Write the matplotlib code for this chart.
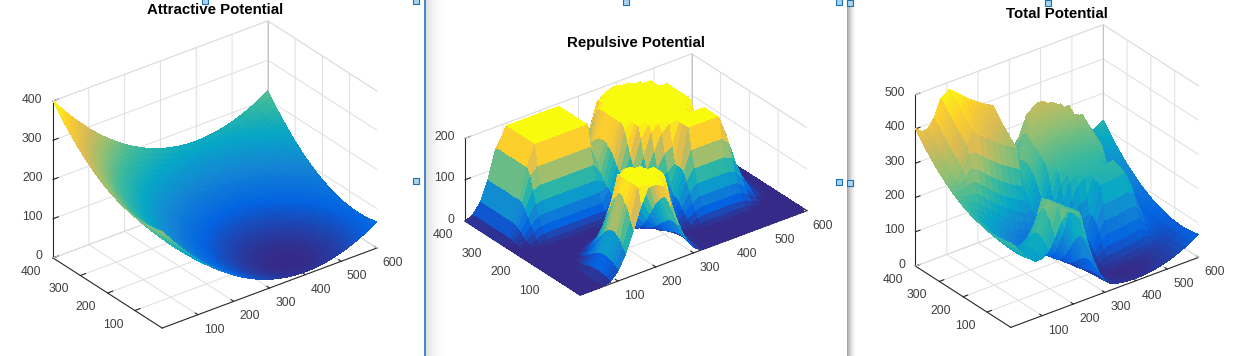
import itertools

import numpy as np
import matplotlib
matplotlib.use('Agg')
import matplotlib.pyplot as plt
from matplotlib.colors import LinearSegmentedColormap
from matplotlib.patches import Rectangle
from mpl_toolkits.mplot3d import proj3d

plt.rcParams['font.family'] = ['Liberation Sans', 'DejaVu Sans']

W, H = 1237, 356

titles = ['Attractive Potential', 'Repulsive Potential', 'Total Potential']
x_ticks = [100, 200, 300, 400, 500, 600]
y_ticks = [100, 200, 300, 400]
z_ticks_attr = [0, 100, 200, 300, 400]
z_ticks_rep = [0, 100, 200]
z_ticks_total = [0, 100, 200, 300, 400, 500]

# attractive height read along x (at y=70) and along y (at x=400), every 10 units
attr_x = [238.4, 226.6, 215.2, 204.0, 193.1, 182.5, 172.2, 162.3, 152.6, 143.2, 134.1, 125.3, 116.8, 108.6, 100.7,
          93.1, 85.8, 78.8, 72.1, 65.7, 59.6, 53.8, 48.3, 43.1, 38.1, 33.5, 29.2, 25.2, 21.5, 18.0, 14.9,
          12.1, 9.5, 7.3, 5.4, 3.7, 2.4, 1.3, 0.6, 0.1, 0.0, 0.1, 0.6, 1.3, 2.4, 3.7, 5.4, 7.3, 9.5, 12.1, 14.9,
          18.0, 21.5, 25.2, 29.2, 33.5, 38.1, 43.1, 48.3, 53.8, 59.6]
attr_y = [7.3, 5.4, 3.7, 2.4, 1.3, 0.6, 0.1, 0.0, 0.1, 0.6, 1.3, 2.4, 3.7, 5.4, 7.3, 9.5, 12.1, 14.9, 18.0, 21.5, 25.2,
          29.2, 33.5, 38.1, 43.1, 48.3, 53.8, 59.6, 65.7, 72.1, 78.8, 85.8, 93.1, 100.7, 108.6, 116.8, 125.3, 134.1,
          143.2, 152.6, 162.3]

# repulsive height, one row per y from 0 to 400 (step 10), x from 0 to 600 (step 20)
rep_rows = [
    [0, 0, 0, 0, 5, 25, 58, 106, 160, 200, 200, 190, 132, 81, 39, 13, 1, 0, 0, 0, 0, 0, 0, 0, 0, 0, 0, 0, 0, 0, 0],
    [0, 0, 0, 0, 8, 30, 68, 125, 200, 200, 200, 200, 162, 97, 47, 17, 2, 0, 0, 0, 0, 0, 0, 0, 0, 0, 0, 0, 0, 0, 0],
    [0, 0, 0, 0, 10, 36, 81, 150, 200, 200, 200, 200, 190, 110, 54, 21, 3, 0, 0, 0, 0, 0, 0, 0, 0, 0, 0, 0, 0, 0, 0],
    [0, 0, 0, 0, 11, 39, 88, 160, 200, 200, 200, 200, 200, 120, 62, 24, 4, 0, 0, 0, 0, 0, 0, 0, 0, 0, 0, 0, 0, 0, 0],
    [0, 0, 0, 0, 12, 41, 93, 175, 200, 200, 200, 200, 200, 128, 64, 25, 4, 0, 0, 0, 0, 0, 0, 0, 0, 0, 0, 0, 0, 0, 0],
    [0, 0, 0, 0, 12, 41, 93, 175, 200, 200, 200, 200, 200, 128, 64, 25, 4, 0, 0, 0, 0, 0, 0, 0, 0, 0, 0, 0, 0, 0, 0],
    [0, 0, 0, 0, 11, 39, 88, 160, 200, 200, 200, 200, 200, 120, 62, 24, 4, 0, 0, 0, 0, 0, 0, 0, 0, 0, 0, 0, 0, 0, 0],
    [0, 0, 0, 0, 10, 36, 81, 150, 200, 200, 200, 200, 190, 110, 54, 21, 3, 0, 0, 1, 2, 2, 2, 2, 2, 2, 0, 0, 0, 0, 0],
    [0, 0, 0, 0, 8, 30, 68, 125, 200, 200, 200, 200, 162, 97, 47, 17, 2, 0, 1, 6, 8, 8, 8, 8, 8, 8, 4, 0, 0, 0, 0],
    [0, 0, 0, 0, 5, 25, 58, 106, 160, 200, 200, 190, 132, 81, 39, 13, 1, 0, 6, 14, 18, 18, 18, 18, 18, 17, 10, 3, 0, 0, 0],
    [0, 0, 0, 0, 3, 18, 45, 84, 128, 160, 175, 148, 106, 64, 30, 9, 0, 3, 13, 27, 32, 32, 32, 32, 32, 31, 21, 8, 0, 0, 0],
    [0, 0, 0, 0, 1, 12, 34, 64, 96, 122, 128, 111, 81, 47, 22, 5, 0, 6, 24, 42, 52, 52, 52, 52, 52, 50, 32, 13, 1, 0, 0],
    [0, 0, 0, 0, 0, 6, 24, 45, 70, 88, 93, 81, 58, 34, 15, 2, 0, 10, 32, 62, 78, 78, 78, 78, 78, 74, 48, 21, 4, 0, 0],
    [0, 0, 0, 0, 0, 3, 14, 29, 47, 62, 64, 54, 39, 22, 8, 0, 4, 14, 41, 84, 110, 110, 110, 110, 110, 102, 62, 27, 6, 0, 0],
    [0, 0, 0, 0, 0, 0, 7, 18, 30, 39, 41, 36, 25, 12, 3, 4, 12, 21, 50, 102, 150, 150, 150, 150, 150, 133, 74, 31, 7, 0, 0],
    [0, 0, 0, 0, 0, 0, 2, 9, 17, 23, 25, 21, 13, 5, 3, 11, 22, 34, 52, 110, 200, 200, 200, 200, 200, 150, 78, 32, 8, 0, 0],
    [0, 0, 0, 0, 0, 0, 0, 3, 8, 12, 12, 10, 6, 1, 8, 21, 36, 54, 68, 110, 200, 200, 200, 200, 200, 150, 78, 32, 8, 0, 0],
    [0, 0, 0, 0, 0, 0, 0, 0, 2, 3, 4, 3, 1, 3, 14, 32, 54, 78, 97, 110, 200, 200, 200, 200, 200, 150, 78, 32, 8, 0, 0],
    [0, 0, 0, 0, 0, 0, 0, 0, 0, 0, 0, 0, 0, 8, 24, 47, 78, 106, 134, 148, 200, 200, 200, 200, 200, 150, 78, 32, 8, 0, 0],
    [0, 0, 0, 0, 0, 0, 0, 0, 0, 0, 0, 0, 2, 13, 34, 65, 103, 141, 180, 197, 200, 200, 200, 200, 200, 150, 78, 32, 8, 0, 0],
    [0, 0, 0, 0, 0, 0, 0, 0, 0, 0, 0, 0, 4, 21, 47, 87, 132, 185, 200, 200, 200, 200, 200, 200, 200, 150, 78, 32, 8, 0, 0],
    [0, 0, 0, 0, 2, 2, 2, 2, 2, 2, 2, 2, 8, 28, 61, 110, 170, 200, 200, 200, 200, 200, 200, 170, 150, 133, 74, 31, 7, 0, 0],
    [0, 0, 0, 4, 8, 8, 8, 8, 8, 8, 8, 8, 12, 36, 78, 132, 200, 200, 200, 200, 200, 200, 200, 200, 132, 102, 62, 27, 6, 0, 0],
    [0, 0, 3, 10, 17, 18, 18, 18, 18, 18, 18, 18, 18, 45, 93, 159, 200, 200, 200, 200, 200, 200, 200, 200, 159, 93, 48, 21, 4, 0, 0],
    [0, 0, 8, 21, 31, 32, 32, 32, 32, 32, 32, 32, 32, 57, 106, 185, 200, 200, 200, 200, 200, 200, 200, 200, 185, 106, 57, 21, 3, 0, 0],
    [0, 1, 13, 32, 50, 52, 52, 52, 52, 52, 52, 52, 52, 61, 120, 200, 200, 200, 200, 200, 200, 200, 200, 200, 200, 120, 61, 25, 4, 0, 0],
    [0, 4, 21, 48, 74, 78, 78, 78, 78, 78, 78, 78, 78, 69, 134, 200, 200, 200, 200, 200, 200, 200, 200, 200, 200, 134, 69, 28, 6, 0, 0],
    [0, 6, 27, 61, 102, 110, 110, 110, 110, 110, 110, 110, 110, 84, 141, 200, 200, 200, 200, 200, 200, 200, 200, 200, 200, 141, 73, 31, 7, 0, 0],
    [0, 8, 31, 74, 133, 150, 150, 150, 150, 150, 150, 150, 150, 102, 148, 200, 200, 200, 200, 200, 200, 200, 200, 200, 200, 148, 78, 32, 8, 0, 0],
    [0, 8, 32, 78, 150, 200, 200, 200, 200, 200, 200, 200, 200, 110, 150, 200, 200, 200, 200, 200, 200, 200, 200, 200, 200, 150, 78, 32, 8, 0, 0],
    [0, 8, 32, 78, 150, 200, 200, 200, 200, 200, 200, 200, 200, 110, 148, 200, 200, 200, 200, 200, 200, 200, 200, 200, 200, 148, 78, 32, 8, 0, 0],
    [0, 8, 32, 78, 150, 200, 200, 200, 200, 200, 200, 200, 200, 110, 141, 200, 200, 200, 200, 200, 200, 200, 200, 200, 200, 141, 73, 31, 7, 0, 0],
    [0, 8, 32, 78, 150, 200, 200, 200, 200, 200, 200, 200, 200, 110, 134, 200, 200, 200, 200, 200, 200, 200, 200, 200, 200, 134, 69, 28, 6, 0, 0],
    [0, 8, 32, 78, 150, 200, 200, 200, 200, 200, 200, 200, 200, 110, 120, 200, 200, 200, 200, 200, 200, 200, 200, 200, 200, 120, 61, 25, 4, 0, 0],
    [0, 8, 32, 78, 150, 200, 200, 200, 200, 200, 200, 200, 200, 110, 106, 185, 200, 200, 200, 200, 200, 200, 200, 200, 185, 106, 57, 21, 3, 0, 0],
    [0, 8, 32, 78, 150, 200, 200, 200, 200, 200, 200, 200, 200, 110, 93, 159, 200, 200, 200, 200, 200, 200, 200, 200, 159, 93, 45, 17, 2, 0, 0],
    [0, 8, 32, 78, 150, 200, 200, 200, 200, 200, 200, 200, 200, 110, 78, 132, 200, 200, 200, 200, 200, 200, 200, 200, 132, 78, 36, 12, 0, 0, 0],
    [0, 8, 32, 78, 150, 200, 200, 200, 200, 200, 200, 200, 200, 110, 61, 110, 170, 200, 200, 200, 200, 200, 200, 170, 110, 61, 28, 8, 0, 0, 0],
    [0, 8, 32, 78, 150, 200, 200, 200, 200, 200, 200, 200, 200, 110, 52, 87, 132, 185, 200, 200, 200, 200, 185, 132, 87, 47, 21, 4, 0, 0, 0],
    [0, 8, 32, 78, 150, 200, 200, 200, 200, 200, 200, 200, 200, 110, 52, 65, 103, 141, 180, 197, 197, 180, 141, 103, 65, 34, 13, 2, 0, 0, 0],
    [0, 8, 32, 78, 145, 175, 175, 175, 175, 175, 175, 175, 175, 108, 52, 47, 78, 106, 134, 148, 148, 134, 106, 78, 47, 24, 8, 0, 0, 0, 0],
]

parula = ['#352A87', '#0363E1', '#1485D4', '#06A7C6', '#38B99E', '#92BF73', '#D9BA56', '#FCCE2E', '#F9FB0E']
cmap = LinearSegmentedColormap.from_list('parula', parula, N=256)

# blue selection handles of the screenshot, (x, y) in pixels
handles = [(205, 1), (416, 1), (416, 181), (626, 2), (839, 2), (850, 3), (839, 182), (850, 183), (1048, 3)]


def make_axes(fig, cx, cy, lx_px, aspect):
    # place the 3d box so that its centre and x edge length fall on given pixels
    k = 1.8294640721620434 * 25 / 24 / np.linalg.norm(aspect)
    size = lx_px / (aspect[0] * k) * 1.85
    left = cx - 0.5135 * size
    bottom = H - cy - 0.5135 * size
    ax = fig.add_axes([left / W, bottom / H, size / W, size / H], projection='3d', proj_type='ortho')
    ax.set_box_aspect(aspect)
    ax.view_init(elev=29.3, azim=-127.3)
    ax.set_facecolor('none')
    ax.computed_zorder = False
    return ax


def style_axes(ax, zmax, zticks):
    ax.set_xlim(0, 600, view_margin=0)
    ax.set_ylim(0, 400, view_margin=0)
    ax.set_zlim(0, zmax, view_margin=0)
    ax.set_xticks(x_ticks)
    ax.set_yticks(y_ticks)
    ax.set_zticks(zticks)
    ax.set_xticklabels([])
    ax.set_yticklabels([])
    ax.set_zticklabels([])
    for axis in (ax.xaxis, ax.yaxis, ax.zaxis):
        axis.set_pane_color((1, 1, 1, 0))
        axis.pane.set_edgecolor('none')
        axis.line.set_color('#262626')
        axis.line.set_linewidth(0.8)
        axis._axinfo['grid'].update(color='#dedede', linewidth=0.7)
        axis._axinfo['tick'].update(inward_factor=0.0, outward_factor=0.3)
    ax.zaxis.set_ticks_position('upper')
    ax.tick_params(color='#262626', width=0.7)
    # back edges of the box
    edge = dict(color='#dedede', linewidth=0.7, zorder=1)
    ax.plot([0, 600], [400, 400], [zmax, zmax], **edge)
    ax.plot([600, 600], [400, 0], [zmax, zmax], **edge)
    ax.plot([0, 600], [400, 400], [0, 0], **edge)
    ax.plot([600, 600], [400, 0], [0, 0], **edge)
    ax.plot([600, 600], [400, 400], [0, zmax], color='#c4c4c4', linewidth=0.7, zorder=1)


def draw_surface(ax, x, y, z, zmax):
    # camera sits at low x and low y, so start from the high corner
    xx, yy = np.meshgrid(x[::-1], y[::-1])
    surf = ax.plot_surface(xx, yy, z[::-1, ::-1], rstride=1, cstride=1, cmap=cmap, vmin=0, vmax=zmax,
                           linewidth=0, antialiased=False, shade=False, zorder=2)
    # faces come back to front already, a height field needs no depth sort
    counter = itertools.count()
    surf._zsortfunc = lambda zs: -next(counter)


def tick_labels(over, ax, zticks):
    # mplot3d places its labels poorly here, so put them next to the projected ticks
    def put(px, py, pz, dx, dy, ha, value):
        sx, sy, _ = proj3d.proj_transform(px, py, pz, ax.get_proj())
        dispx, dispy = ax.transData.transform((sx, sy))
        over.text(dispx + dx, H - dispy + dy, str(value), ha=ha, va='center', fontsize=8.8, color='#404040')
    for v in x_ticks:
        put(v, 0, 0, 16, 15, 'center', v)
    for v in y_ticks:
        put(0, v, 0, -22, 14, 'center', v)
    for v in zticks:
        put(0, 400, v, -10.5, -1.5, 'right', v)


def main():
    x_fine = np.arange(0, 601, 10)
    y_fine = np.arange(0, 401, 10)
    attractive = np.add.outer(attr_y, attr_x)

    x_rep = np.arange(0, 601, 20)
    repulsive = np.array(rep_rows, dtype=float)
    total = attractive[:, ::2] + repulsive

    fig = plt.figure(figsize=(W / 100, H / 100), dpi=100, facecolor='white')

    ax1 = make_axes(fig, 215, 174.5, 270, (3, 2, 2))
    style_axes(ax1, 400, z_ticks_attr)
    draw_surface(ax1, x_fine, y_fine, attractive, 400)

    ax2 = make_axes(fig, 636, 174.5, 285, (3, 2, 1))
    style_axes(ax2, 200, z_ticks_rep)
    draw_surface(ax2, x_rep, y_fine, repulsive, 200)

    ax3 = make_axes(fig, 1057, 176, 236, (3, 2, 2.5))
    style_axes(ax3, 500, z_ticks_total)
    draw_surface(ax3, x_rep, y_fine, total, total.max())

    # overlay in pixel coordinates: titles, tick labels, window edges, handles
    over = fig.add_axes([0, 0, 1, 1], zorder=10)
    over.set_xlim(0, W)
    over.set_ylim(H, 0)
    over.axis('off')
    over.patch.set_alpha(0)
    tick_labels(over, ax1, z_ticks_attr)
    tick_labels(over, ax2, z_ticks_rep)
    tick_labels(over, ax3, z_ticks_total)
    for tx, ty, t in zip([215, 636, 1057], [10, 43, 14], titles):
        over.text(tx, ty, t, ha='center', va='center', fontsize=10.8, fontweight='bold', color='black')
    over.add_patch(Rectangle((424, 0), 1.5, H, color='#4a86c0', lw=0))
    for i in range(20):
        over.add_patch(Rectangle((425.5 + i, 0), 1, H, color='black', alpha=0.12 * (1 - i / 20) ** 2, lw=0))
    for i in range(10):
        over.add_patch(Rectangle((847 + i, 0), 1, H, color='black', alpha=0.35 * (1 - i / 10) ** 2, lw=0))
    for hx, hy in handles:
        over.add_patch(Rectangle((hx - 3, hy - 3), 6, 6, facecolor='#a9d3f0', edgecolor='#1f6fb0', lw=0.8))

    fig.savefig('out.png', dpi=100)


if __name__ == '__main__':
    main()
